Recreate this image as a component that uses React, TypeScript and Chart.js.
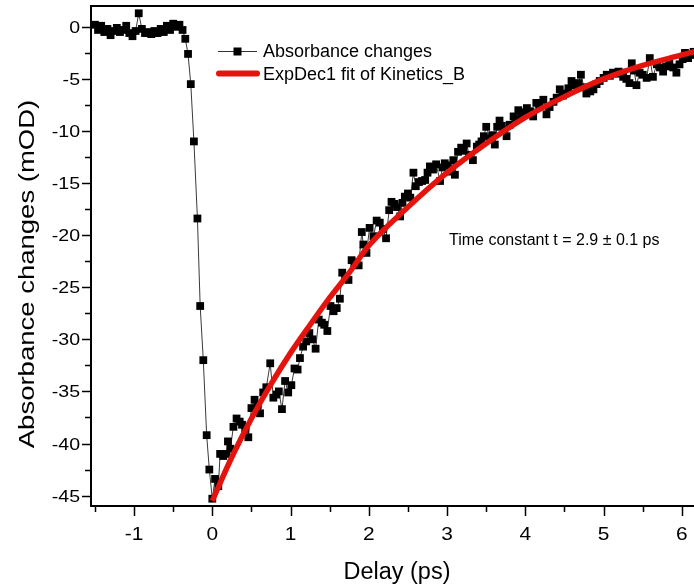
import React, { useEffect, useRef } from 'react';
import { Chart, registerables } from 'chart.js';

Chart.register(...registerables);

// ---- data ----
const delayPs: number[] = [
  -1.50, -1.46, -1.42, -1.38, -1.34, -1.30, -1.26, -1.22, -1.18, -1.14,
  -1.10, -1.06, -1.02, -0.98, -0.94, -0.90, -0.86, -0.82, -0.78, -0.74,
  -0.70, -0.66, -0.62, -0.58, -0.54, -0.50, -0.46, -0.42, -0.38,
  -0.345, -0.31, -0.275, -0.235, -0.19, -0.155, -0.115, -0.072, -0.038, 0.0,
  0.035, 0.077, 0.10, 0.14, 0.18, 0.20, 0.23, 0.27, 0.31, 0.35,
  0.38, 0.42, 0.46, 0.50, 0.54, 0.58, 0.61, 0.65, 0.69, 0.74,
  0.78, 0.82, 0.85, 0.89, 0.93, 0.97, 1.01, 1.05, 1.09, 1.12,
  1.16, 1.20, 1.24, 1.28, 1.32, 1.36, 1.40, 1.43, 1.47, 1.51,
  1.55, 1.59, 1.63, 1.66, 1.70, 1.74, 1.78, 1.82, 1.87, 1.91,
  1.93, 1.97, 2.01, 2.06, 2.10, 2.14, 2.18, 2.22, 2.26, 2.29,
  2.33, 2.36, 2.40, 2.43, 2.46, 2.50, 2.53, 2.57, 2.60, 2.64,
  2.68, 2.72, 2.75, 2.78, 2.82, 2.86, 2.91, 2.94, 2.97, 3.01,
  3.04, 3.08, 3.10, 3.14, 3.18, 3.21, 3.25, 3.28, 3.33, 3.38,
  3.41, 3.44, 3.47, 3.50, 3.55, 3.58, 3.61, 3.64, 3.67, 3.70,
  3.73, 3.76, 3.80, 3.85, 3.88, 3.91, 3.95, 3.99, 4.02, 4.06,
  4.10, 4.14, 4.18, 4.23, 4.27, 4.31, 4.36, 4.40, 4.44, 4.48,
  4.51, 4.55, 4.59, 4.64, 4.68, 4.71, 4.75, 4.78, 4.83, 4.87,
  4.91, 4.95, 5.00, 5.04, 5.08, 5.12, 5.16, 5.19, 5.22, 5.25,
  5.29, 5.33, 5.36, 5.39, 5.42, 5.46, 5.50, 5.55, 5.59, 5.63,
  5.68, 5.72, 5.76, 5.80, 5.84, 5.89, 5.93, 5.97, 6.01, 6.04,
  6.08, 6.11, 6.15,
];

const absorbanceMOD: number[] = [
  0.2, -0.3, 0.1, -0.5, -0.2, -0.8, -0.4, -0.1, -0.5, -0.3,
  0.1, -0.6, -0.9, -0.4, 1.3, -0.2, -0.6, -0.5, -0.7, -0.4,
  -0.6, -0.2, -0.5, 0.1, -0.3, 0.3, 0.0, 0.2, -0.3,
  -1.15, -2.6, -5.5, -11.0, -18.4, -26.8, -32.0, -39.2, -42.5, -45.3,
  -43.4, -44.1, -41.0, -41.2, -41.0, -39.8, -40.5, -38.4, -37.6, -37.9,
  -38.2, -38.6, -39.4, -36.6, -35.8, -36.3, -37.1, -35.1, -34.6, -32.3,
  -35.6, -35.3, -35.0, -36.7, -34.0, -35.1, -34.4, -32.8, -32.9, -31.8,
  -30.7, -30.2, -29.4, -30.0, -30.9, -28.1, -28.4, -28.6, -29.2, -26.8,
  -27.3, -27.0, -26.1, -23.6, -24.0, -24.3, -22.4, -22.6, -22.9, -19.7,
  -20.9, -21.7, -19.3, -20.1, -18.6, -18.8, -19.4, -20.3, -17.6, -16.8,
  -17.0, -17.3, -18.2, -16.9, -16.3, -16.0, -16.4, -14.0, -15.3, -14.9,
  -14.8, -14.7, -14.0, -13.4, -13.7, -13.2, -14.8, -13.5, -13.1, -13.3,
  -13.9, -12.8, -14.2, -12.0, -11.6, -11.9, -11.2, -12.3, -12.8, -11.5,
  -11.3, -11.0, -10.5, -9.6, -10.7, -10.4, -11.3, -9.6, -9.0, -9.5,
  -9.9, -10.5, -9.4, -8.6, -8.9, -8.0, -8.4, -8.2, -7.8, -8.1,
  -8.6, -7.3, -7.6, -7.0, -8.4, -7.7, -7.2, -6.8, -6.0, -6.6,
  -6.4, -5.9, -5.2, -5.6, -5.4, -4.6, -5.8, -6.4, -6.2, -6.0,
  -5.5, -5.2, -4.9, -4.6, -4.7, -4.4, -4.5, -4.3, -4.4, -4.8,
  -5.0, -5.4, -3.5, -4.2, -5.6, -4.4, -4.6, -4.9, -3.0, -4.8,
  -3.6, -3.9, -4.3, -3.8, -3.5, -3.9, -4.4, -3.6, -3.1, -2.5,
  -3.0, -2.7, -2.4,
];

const fitDelayPs: number[] = [0, 0.25, 0.5, 0.75, 1, 1.25, 1.5, 1.75, 2, 2.5, 3, 3.5, 4, 4.5, 5, 5.5, 6, 6.2];
const fitMOD: number[] = [-45.5, -41.3, -37.6, -34.3, -31.3, -28.6, -26.0, -23.6, -21.0, -17.3, -14.0, -11.2, -8.7, -6.7, -5.0, -3.7, -2.7, -2.3];

const seriesLabels = ['Absorbance changes', 'ExpDec1 fit of Kinetics_B'];
const annotationText = 'Time constant t = 2.9 \u00b1 0.1 ps';
const xTitle = 'Delay (ps)';
const yTitle = 'Absorbance changes (mOD)';

const xRange = [-1.55, 6.155];
const yRange = [-46, 2];
const xStep = 1;
const yStep = 5;

const FONT = '"Liberation Sans", Arial, Helvetica, sans-serif';

function drawText(
  ctx: CanvasRenderingContext2D, text: string, x: number, y: number,
  size: number, align: CanvasTextAlign, sx = 1, rot = 0,
) {
  ctx.save();
  ctx.translate(x, y);
  if (rot) ctx.rotate(rot);
  ctx.scale(sx, 1);
  ctx.font = `${size}px ${FONT}`;
  ctx.fillStyle = '#000';
  ctx.textAlign = align;
  ctx.textBaseline = 'alphabetic';
  ctx.fillText(text, 0, 0);
  ctx.restore();
}

const framePlugin = {
  id: 'frameDecor',
  afterDatasetsDraw(chart: any) {
    const { ctx, chartArea: a, scales } = chart;
    const xs = scales.x;
    const ys = scales.y;
    ctx.save();
    // axes and top frame line
    ctx.strokeStyle = '#000';
    ctx.lineWidth = 2;
    ctx.beginPath();
    ctx.moveTo(a.left, a.top);
    ctx.lineTo(a.right, a.top);
    ctx.moveTo(a.left, a.top - 1);
    ctx.lineTo(a.left, a.bottom + 1);
    ctx.moveTo(a.left - 1, a.bottom);
    ctx.lineTo(a.right, a.bottom);
    ctx.stroke();

    // ticks (major from the scales, minor halfway)
    ctx.lineWidth = 1.5;
    ctx.beginPath();
    const xTicks = xs.ticks.map((t: any) => t.value);
    const yTicks = ys.ticks.map((t: any) => t.value);
    for (const v of xTicks) {
      const px = Math.round(xs.getPixelForValue(v)) + 0.5;
      ctx.moveTo(px, a.bottom);
      ctx.lineTo(px, a.bottom + 10);
    }
    const xMinor = new Set<number>();
    for (const v of xTicks) { xMinor.add(v - xStep / 2); xMinor.add(v + xStep / 2); }
    for (const v of xMinor) {
      if (v < xs.min || v > xs.max) continue;
      const px = Math.round(xs.getPixelForValue(v)) + 0.5;
      ctx.moveTo(px, a.bottom);
      ctx.lineTo(px, a.bottom + 6);
    }
    for (const v of yTicks) {
      const py = Math.round(ys.getPixelForValue(v)) + 0.5;
      ctx.moveTo(a.left, py);
      ctx.lineTo(a.left - 9, py);
    }
    const yMinor = new Set<number>();
    for (const v of yTicks) { yMinor.add(v - yStep / 2); yMinor.add(v + yStep / 2); }
    for (const v of yMinor) {
      if (v < ys.min || v > ys.max) continue;
      const py = Math.round(ys.getPixelForValue(v)) + 0.5;
      ctx.moveTo(a.left, py);
      ctx.lineTo(a.left - 6, py);
    }
    ctx.stroke();

    // tick labels
    for (const t of xs.ticks) {
      const px = xs.getPixelForValue(t.value);
      drawText(ctx, String(t.label), px, 540, 19, 'center', 1.1);
    }
    for (const t of ys.ticks) {
      const py = ys.getPixelForValue(t.value);
      drawText(ctx, String(t.label), 80, py + 6, 17, 'right', 1.15);
    }

    // axis titles
    drawText(ctx, xTitle, 397, 579, 23, 'center', 1.02);
    drawText(ctx, yTitle, 34, 274, 22, 'center', 1.25, -Math.PI / 2);

    // legend
    const ds = chart.data.datasets;
    ctx.strokeStyle = '#333';
    ctx.lineWidth = 1;
    ctx.beginPath();
    ctx.moveTo(218, 51.5);
    ctx.lineTo(257, 51.5);
    ctx.stroke();
    ctx.fillStyle = '#000';
    ctx.fillRect(233.5, 47.5, 8, 8);
    drawText(ctx, ds[0].label, 263, 57, 18, 'left');

    ctx.strokeStyle = ds[1].borderColor;
    ctx.lineWidth = 6;
    ctx.lineCap = 'round';
    ctx.beginPath();
    ctx.moveTo(219, 73.5);
    ctx.lineTo(257, 73.5);
    ctx.stroke();
    drawText(ctx, ds[1].label, 263, 80, 18, 'left');

    // annotation
    drawText(ctx, annotationText, 449, 245, 16, 'left');
    ctx.restore();
  },
};

export default function App() {
  const ref = useRef<HTMLCanvasElement | null>(null);

  useEffect(() => {
    if (!ref.current) return;
    const measured = delayPs.map((x, i) => ({ x, y: absorbanceMOD[i] }));
    const fit = fitDelayPs.map((x, i) => ({ x, y: fitMOD[i] }));
    const chart = new Chart(ref.current, {
      type: 'line',
      data: {
        datasets: [
          {
            label: seriesLabels[0],
            data: measured,
            showLine: true,
            borderColor: '#3a3a3a',
            borderWidth: 1,
            pointStyle: 'rect',
            pointRadius: 5.5,
            pointBackgroundColor: '#000',
            pointBorderColor: '#000',
            pointBorderWidth: 0,
            tension: 0,
            order: 1,
          },
          {
            label: seriesLabels[1],
            data: fit,
            borderColor: '#e5130d',
            borderWidth: 5.5,
            pointRadius: 0,
            cubicInterpolationMode: 'monotone',
            order: 0,
          },
        ],
      },
      options: {
        animation: false,
        responsive: false,
        maintainAspectRatio: false,
        devicePixelRatio: 1,
        layout: { autoPadding: false, padding: { top: 6, left: 0, right: 0, bottom: 0 } },
        plugins: { legend: { display: false }, tooltip: { enabled: false } },
        scales: {
          x: {
            type: 'linear',
            min: xRange[0],
            max: xRange[1],
            ticks: { stepSize: xStep, includeBounds: false, display: false },
            grid: { display: false, drawTicks: false },
            border: { display: false },
            afterFit: (s: any) => { s.height = 80; },
          },
          y: {
            type: 'linear',
            min: yRange[0],
            max: yRange[1],
            ticks: { stepSize: yStep, includeBounds: false, display: false },
            grid: { display: false, drawTicks: false },
            border: { display: false },
            afterFit: (s: any) => { s.width = 91; },
          },
        },
      },
      plugins: [framePlugin],
    });
    return () => chart.destroy();
  }, []);

  return (
    <div style={{ position: 'absolute', left: 0, top: 0, width: 694, height: 586, background: '#fff' }}>
      <canvas ref={ref} width={694} height={586} style={{ display: 'block', width: 694, height: 586 }} />
    </div>
  );
}
